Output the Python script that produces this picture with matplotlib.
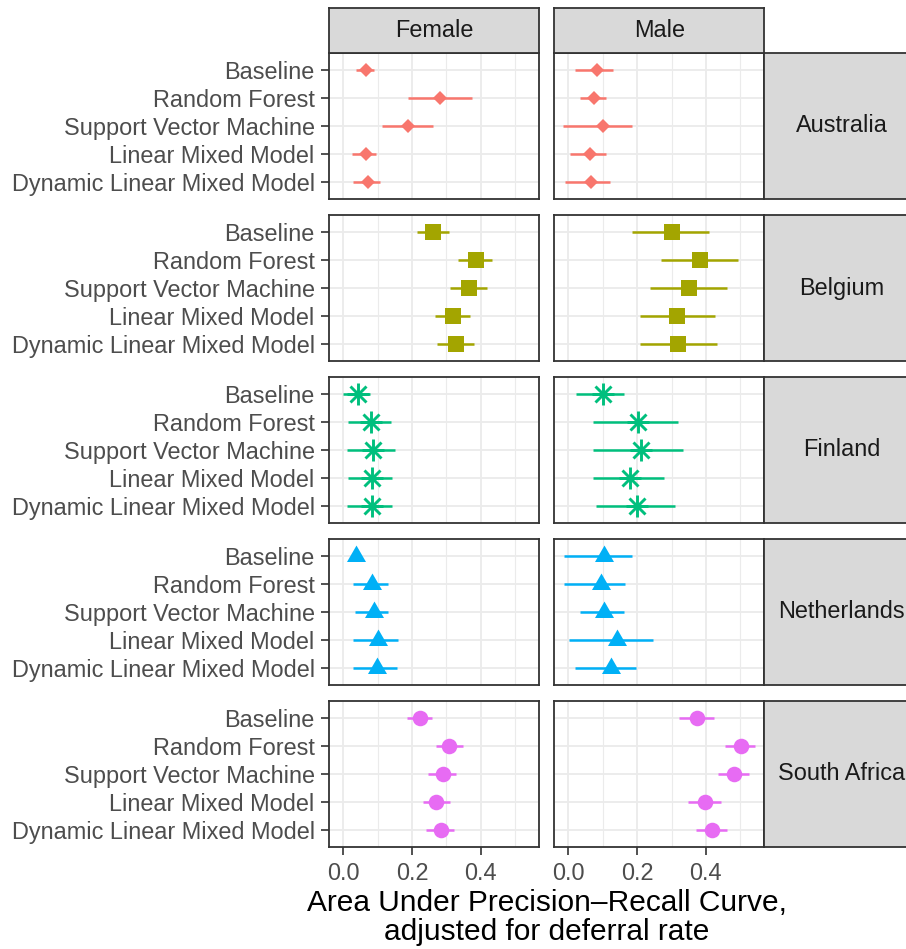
import matplotlib
matplotlib.use("Agg")
import matplotlib.pyplot as plt
from matplotlib.ticker import FixedLocator

plt.rcParams['font.family'] = ['Liberation Sans', 'DejaVu Sans']

# ---- data -------------------------------------------------------------
models = ["Baseline", "Random Forest", "Support Vector Machine",
          "Linear Mixed Model", "Dynamic Linear Mixed Model"]
sexes = ["Female", "Male"]
countries = ["Australia", "Belgium", "Finland", "Netherlands", "South Africa"]
colors = ["#F8766D", "#A3A500", "#00BF7D", "#00B0F6", "#E76BF3"]

# Australia
aus_f_est = [0.066, 0.281, 0.188, 0.065, 0.072]
aus_f_lo = [0.037, 0.187, 0.112, 0.025, 0.029]
aus_f_hi = [0.090, 0.374, 0.262, 0.094, 0.107]
aus_m_est = [0.082, 0.074, 0.101, 0.063, 0.067]
aus_m_lo = [0.018, 0.035, -0.016, 0.005, -0.010]
aus_m_hi = [0.131, 0.108, 0.186, 0.108, 0.122]

# Belgium
bel_f_est = [0.262, 0.385, 0.366, 0.319, 0.329]
bel_f_lo = [0.214, 0.333, 0.311, 0.268, 0.274]
bel_f_hi = [0.308, 0.434, 0.417, 0.369, 0.380]
bel_m_est = [0.302, 0.384, 0.351, 0.316, 0.319]
bel_m_lo = [0.185, 0.269, 0.237, 0.207, 0.209]
bel_m_hi = [0.409, 0.494, 0.460, 0.427, 0.432]

# Finland
fin_f_est = [0.042, 0.080, 0.086, 0.083, 0.084]
fin_f_lo = [0.000, 0.013, 0.011, 0.013, 0.011]
fin_f_hi = [0.077, 0.139, 0.151, 0.141, 0.143]
fin_m_est = [0.102, 0.202, 0.210, 0.179, 0.201]
fin_m_lo = [0.021, 0.073, 0.073, 0.071, 0.080]
fin_m_hi = [0.163, 0.318, 0.332, 0.278, 0.309]

# Netherlands
ned_f_est = [0.037, 0.084, 0.088, 0.101, 0.099]
ned_f_lo = [0.027, 0.027, 0.033, 0.029, 0.027]
ned_f_hi = [0.047, 0.129, 0.131, 0.160, 0.156]
ned_m_est = [0.103, 0.094, 0.103, 0.141, 0.123]
ned_m_lo = [-0.014, -0.014, 0.033, 0.001, 0.019]
ned_m_hi = [0.186, 0.166, 0.161, 0.245, 0.198]

# South Africa
rsa_f_est = [0.222, 0.309, 0.290, 0.271, 0.283]
rsa_f_lo = [0.186, 0.270, 0.247, 0.232, 0.242]
rsa_f_hi = [0.258, 0.348, 0.328, 0.311, 0.322]
rsa_m_est = [0.375, 0.501, 0.481, 0.398, 0.419]
rsa_m_lo = [0.323, 0.457, 0.436, 0.348, 0.371]
rsa_m_hi = [0.423, 0.542, 0.526, 0.443, 0.462]

x_ticks = [0.0, 0.2, 0.4]
x_tick_labels = ["0.0", "0.2", "0.4"]
x_minor = [0.1, 0.3, 0.5]
x_title = "Area Under Precision\u2013Recall Curve,\nadjusted for deferral rate"

panels = {
    ("Australia", "Female"): (aus_f_est, aus_f_lo, aus_f_hi),
    ("Australia", "Male"): (aus_m_est, aus_m_lo, aus_m_hi),
    ("Belgium", "Female"): (bel_f_est, bel_f_lo, bel_f_hi),
    ("Belgium", "Male"): (bel_m_est, bel_m_lo, bel_m_hi),
    ("Finland", "Female"): (fin_f_est, fin_f_lo, fin_f_hi),
    ("Finland", "Male"): (fin_m_est, fin_m_lo, fin_m_hi),
    ("Netherlands", "Female"): (ned_f_est, ned_f_lo, ned_f_hi),
    ("Netherlands", "Male"): (ned_m_est, ned_m_lo, ned_m_hi),
    ("South Africa", "Female"): (rsa_f_est, rsa_f_lo, rsa_f_hi),
    ("South Africa", "Male"): (rsa_m_est, rsa_m_lo, rsa_m_hi),
}

# ---- styling ----------------------------------------------------------
W, H = 906, 949
DPI = 100
GRID = "#EBEBEB"
BORDER = "#333333"
STRIP_FILL = "#D9D9D9"
TICK_TXT = "#4D4D4D"
STRIP_TXT = "#1A1A1A"
FS = 16.9
TITLE_FS = 21.5

tri = [(0.0, 0.577), (-0.5, -0.289), (0.5, -0.289)]
marker_style = {
    "Australia": dict(marker="D", markersize=7.6),
    "Belgium": dict(marker="s", markersize=11.0),
    "Finland": None,
    "Netherlands": dict(marker=tri, markersize=15.8),
    "South Africa": dict(marker="o", markersize=11.2),
}

col_x = [(329.3, 538.7), (554.3, 764.0)]
row_top = [53, 215, 377, 539, 701]
row_h = 146
strip_top = 8
strip_right = 919

fig = plt.figure(figsize=(W / DPI, H / DPI), dpi=DPI)


def rect(x0, y0, x1, y1):
    return [x0 / W, 1 - y1 / H, (x1 - x0) / W, (y1 - y0) / H]


def style_frame(ax, lw=1.3):
    for sp in ax.spines.values():
        sp.set_color(BORDER)
        sp.set_linewidth(lw)
        sp.set_zorder(10)


ypos = list(range(len(models)))

for r, country in enumerate(countries):
    top = row_top[r]
    color = colors[r]
    for c, sex in enumerate(sexes):
        x0, x1 = col_x[c]
        ax = fig.add_axes(rect(x0, top, x1, top + row_h))
        est, lo, hi = panels[(country, sex)]

        ax.set_xlim(-0.041, 0.569)
        ax.set_ylim(len(models) - 1 + 0.6, -0.6)

        # grid
        for v in x_minor:
            ax.axvline(v, color=GRID, lw=0.8, zorder=0)
        for v in x_ticks:
            ax.axvline(v, color=GRID, lw=1.3, zorder=0)
        for y in ypos:
            ax.axhline(y, color=GRID, lw=1.3, zorder=0)

        ax.hlines(ypos, lo, hi, color=color, lw=1.8, zorder=3)
        if country == "Finland":
            ax.plot(est, ypos, linestyle="none", marker="+", markersize=16.5,
                    markeredgewidth=2.1, color=color, zorder=4)
            ax.plot(est, ypos, linestyle="none", marker="x", markersize=11.7,
                    markeredgewidth=2.1, color=color, zorder=4)
        else:
            ax.plot(est, ypos, linestyle="none", color=color,
                    markeredgewidth=0, zorder=4, **marker_style[country])

        ax.xaxis.set_major_locator(FixedLocator(x_ticks))
        ax.set_yticks(ypos)
        ax.tick_params(axis="both", length=5.5, width=1.2, color=BORDER,
                       labelsize=FS, labelcolor=TICK_TXT)
        ax.tick_params(axis="x", pad=5)
        ax.tick_params(axis="y", pad=5)
        if r == len(countries) - 1:
            ax.set_xticklabels(x_tick_labels)
        else:
            ax.tick_params(axis="x", length=0, labelbottom=False)
        if c == 0:
            ax.set_yticklabels(models)
        else:
            ax.tick_params(axis="y", length=0, labelleft=False)
        style_frame(ax)

    # country strip on the right
    sax = fig.add_axes(rect(col_x[1][1], top, strip_right, top + row_h))
    sax.set_facecolor(STRIP_FILL)
    sax.set_xticks([])
    sax.set_yticks([])
    style_frame(sax)
    sax.text(0.5, 0.5, country, transform=sax.transAxes, ha="center",
             va="center", fontsize=FS, color=STRIP_TXT)

# sex strips on top
for c, sex in enumerate(sexes):
    x0, x1 = col_x[c]
    sax = fig.add_axes(rect(x0, strip_top, x1, row_top[0]))
    sax.set_facecolor(STRIP_FILL)
    sax.set_xticks([])
    sax.set_yticks([])
    style_frame(sax)
    sax.text(0.5, 0.5, sex, transform=sax.transAxes, ha="center",
             va="center", fontsize=FS, color=STRIP_TXT)

fig.text((col_x[0][0] + col_x[1][1]) / 2 / W, 1 - 889 / H, x_title,
         ha="center", va="top", fontsize=TITLE_FS, color="black",
         linespacing=1.05)

fig.savefig("out.png", dpi=DPI)
